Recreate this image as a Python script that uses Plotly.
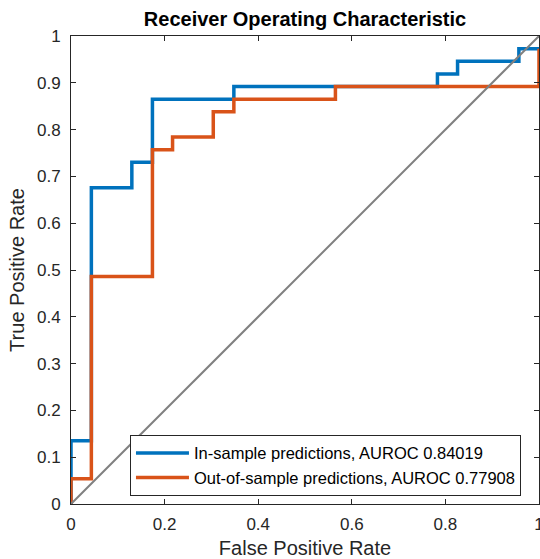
import plotly.graph_objects as go

# ROC corner points (FPR, TPR)
in_fpr = [0, 0, 0.0435, 0.130, 0.174, 0.348, 0.783, 0.826, 0.957, 1.0]
in_tpr = [0, 0.135, 0.676, 0.730, 0.865, 0.892, 0.919, 0.946, 0.973, 0.973]

out_fpr = [0, 0, 0.0435, 0.174, 0.217, 0.304, 0.348, 0.565, 1.0]
out_tpr = [0, 0.054, 0.486, 0.757, 0.784, 0.838, 0.865, 0.892, 0.973]

diag_x = [0, 1]
diag_y = [0, 1]

in_label = "In-sample predictions, AUROC 0.84019"
out_label = "Out-of-sample predictions, AUROC 0.77908"

x_ticks = [0, 0.2, 0.4, 0.6, 0.8, 1]
x_tick_text = ["0", "0.2", "0.4", "0.6", "0.8", "1"]
y_ticks = [0, 0.1, 0.2, 0.3, 0.4, 0.5, 0.6, 0.7, 0.8, 0.9, 1]
y_tick_text = ["0", "0.1", "0.2", "0.3", "0.4", "0.5", "0.6", "0.7", "0.8", "0.9", "1"]

FONT = "Liberation Sans, Arial, Helvetica, sans-serif"
AX = "#262626"

W, H = 540, 559

fig = go.Figure()
fig.add_trace(go.Scatter(x=in_fpr, y=in_tpr, mode="lines", line_shape="hv",
                         line=dict(color="#0072BD", width=3.5), name=in_label))
fig.add_trace(go.Scatter(x=out_fpr, y=out_tpr, mode="lines", line_shape="hv",
                         line=dict(color="#D95319", width=3.5), name=out_label))
fig.add_trace(go.Scatter(x=diag_x, y=diag_y, mode="lines",
                         line=dict(color="#808080", width=2), showlegend=False))

axis_common = dict(
    showgrid=False, zeroline=False, showline=True, linecolor=AX, linewidth=1,
    mirror="ticks", ticks="inside", ticklen=5, tickcolor=AX, tickwidth=1,
    tickfont=dict(family=FONT, size=17, color=AX),
    automargin=False,
)

fig.update_layout(
    width=W, height=H,
    margin=dict(l=71, r=1, t=36, b=55, pad=0, autoexpand=False),
    paper_bgcolor="white", plot_bgcolor="white",
    title=dict(text="<b>Receiver Operating Characteristic</b>",
               font=dict(family=FONT, size=20, color="black"),
               x=305 / W, xanchor="center", y=1 - 19 / H, yanchor="middle"),
    xaxis=dict(range=[0, 1], tickvals=x_ticks, ticktext=x_tick_text,
               ticklabelstandoff=5, ticklabeloverflow="allow",
               title=dict(text="False Positive Rate", font=dict(family=FONT, size=20, color=AX), standoff=9),
               **axis_common),
    yaxis=dict(range=[0, 1], tickvals=y_ticks, ticktext=y_tick_text,
               ticklabelstandoff=6,
               title=dict(text="True Positive Rate", font=dict(family=FONT, size=20, color=AX), standoff=6),
               **axis_common),
    legend=dict(x=0.126, y=0.148, xanchor="left", yanchor="top",
                bgcolor="white", bordercolor=AX, borderwidth=1,
                font=dict(family=FONT, size=16.5, color="black"),
                itemwidth=53, tracegroupgap=0),
    showlegend=True,
)

fig.write_html(
    "out.html",
    config={"displayModeBar": False},
    post_script="document.body.style.margin='0';document.body.style.overflow='hidden';",
)
